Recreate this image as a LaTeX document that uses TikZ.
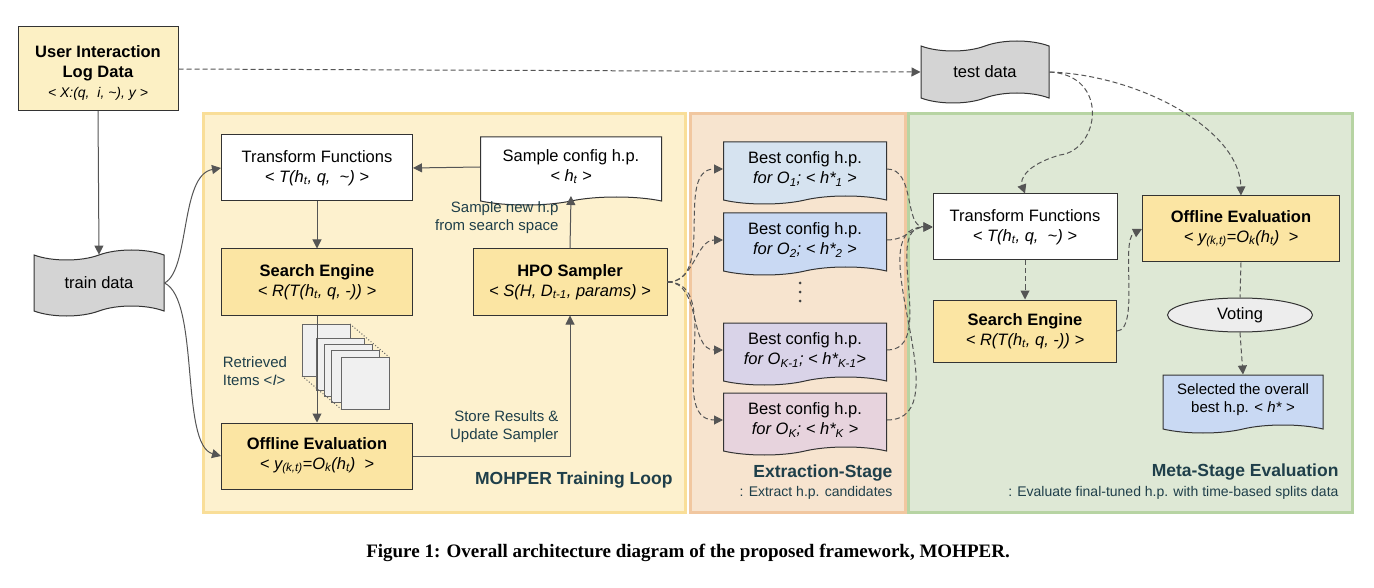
\documentclass[tikz,border=0pt]{standalone}
\usepackage{fontspec}
\setmainfont{Liberation Sans}
\newfontfamily\capfont{Liberation Serif}
\usetikzlibrary{shapes.geometric,shapes.symbols,arrows.meta,positioning}
\definecolor{arr}{HTML}{555555}
\definecolor{ybox}{HTML}{FBE5A3}
\definecolor{ypan}{HTML}{FDF1CE}
\definecolor{ypanb}{HTML}{F9DE98}
\definecolor{opan}{HTML}{F7E4CF}
\definecolor{opanb}{HTML}{F1C7A0}
\definecolor{gpan}{HTML}{DEE8D5}
\definecolor{gpanb}{HTML}{B7D4A3}
\definecolor{cyl}{HTML}{FCF0C4}
\definecolor{bA}{HTML}{D6E3F0}
\definecolor{bB}{HTML}{C9D9F3}
\definecolor{bC}{HTML}{D9D3E8}
\definecolor{bD}{HTML}{E7D3DD}
\definecolor{ttl}{HTML}{1F3F4A}
\begin{document}
\begin{tikzpicture}[x=1pt,y=-1pt,
  every node/.style={font=\fontsize{16.5}{19.5}\selectfont,align=center,text=black},
  box/.style={draw=black!80,line width=1pt,minimum width=191pt,minimum height=66pt,inner sep=1pt},
  doc/.style={tape,draw=black!80,line width=1pt,tape bend top=none,tape bend bottom=in and out,tape bend height=8pt,minimum width=163pt,minimum height=62pt,inner sep=1pt},
  data/.style={tape,draw=black!80,line width=1pt,fill=black!17,tape bend height=10pt,minimum width=130pt,minimum height=66pt},
  a/.style={draw=arr,line width=1pt,-{Triangle[length=9pt,width=9pt]}},
  d/.style={a,dashed,dash pattern=on 5pt off 3pt},
  panel/.style={line width=3pt},
  ttlf/.style={font=\fontsize{17.5}{20}\selectfont\bfseries,text=ttl},
  subf/.style={font=\fontsize{14}{16}\selectfont,text=ttl}]
\useasboundingbox (0,0) rectangle (1374,588);
\fill[white] (0,0) rectangle (1374,588);
% panels
\draw[panel,fill=ypan,draw=ypanb] (203,114) rectangle (685,512);
\draw[panel,fill=opan,draw=opanb] (690,114) rectangle (905,512);
\draw[panel,fill=gpan,draw=gpanb] (908,114) rectangle (1352,512);
% left column
\node[cylinder,shape border rotate=90,aspect=0.35,draw=black!80,line width=1pt,fill=cyl,minimum width=160pt,minimum height=84pt,inner sep=0pt] (uil) at (98,69) {};
\node at (98,73) {\textbf{User Interaction}\\\textbf{Log Data}\\[1pt]{\fontsize{14}{16}\selectfont\textit{< X:(q,~ i, \textasciitilde), y >}}};
\node[data] (train) at (99,283) {train data};
\node[data,minimum width=128pt,minimum height=62pt] (test) at (985,72) {test data};
% training loop
\node[box,fill=white] (tf) at (317,168) {Transform Functions\\\textit{< T(h\textsubscript{t}, q,~ \textasciitilde) >}};
\node[box,fill=ybox] (se) at (317,282) {\textbf{Search Engine}\\\textit{< R(T(h\textsubscript{t}, q, -)) >}};
\node[box,fill=ybox] (oe) at (317,456) {\textbf{Offline Evaluation}\\\textit{< y\textsubscript{(k,t)}=O\textsubscript{k}(h\textsubscript{t}) ~>}};
\node[box,fill=ybox,minimum width=194pt] (hpo) at (570,282) {\textbf{HPO Sampler}\\\textit{< S(H, D\textsubscript{t-1}, params) >}};
\node[doc,fill=white,minimum width=181pt,minimum height=68pt] (sc) at (571,167) {Sample config h.p.\\\textit{< h\textsubscript{t} >}};
% docs stack
\foreach \dx/\dy [count=\i] in {0/0,14/14,22/20,29/26,39/33}{
  \draw[black!60,line width=1pt,fill=black!6] (302+\dx,324+\dy) rectangle ++(48,52);}
\draw[black!60,dotted,line width=1pt] (350,324) -- (389,357);
\draw[black!60,dotted,line width=1pt] (302,376) -- (341,409);
\node[text=ttl,align=left,font=\fontsize{15}{18}\selectfont] at (255,371) {Retrieved\\Items <\textit{I}>};
\draw[a] (uil.south) -- (train.north);
\draw[d] (uil.east) -- (test.west);
\draw[a] (train.east) .. controls (190,270) and (180,175) .. (tf.west);
\draw[a] (train.east) .. controls (200,300) and (180,445) .. (oe.west);
\draw[a] (tf.south) -- (se.north);
\draw[a] (se.south) -- (oe.north);
\draw[a] (oe.east) -| (hpo.south);
\draw[a] (hpo.north) -- (571,196);
\draw[a] (sc.west) -- (tf.east);
\node[text=ttl,align=right,font=\fontsize{15}{18}\selectfont,anchor=east] at (562,218) {Sample new h.p\\from search space};
\node[text=ttl,align=right,font=\fontsize{15}{18}\selectfont,anchor=east] at (562,427) {Store Results \&\\Update Sampler};
\node[ttlf,anchor=east] at (676,480) {MOHPER Training Loop};
% extraction
\node[doc,fill=bA] (b1) at (805,169) {Best config h.p.\\\textit{for O\textsubscript{1}; < h*\textsubscript{1} >}};
\node[doc,fill=bB] (b2) at (805,240) {Best config h.p.\\\textit{for O\textsubscript{2}; < h*\textsubscript{2} >}};
\foreach \yy in {283,292,301}{\fill[black!75] (800,\yy) circle (1.5pt);}
\node[doc,fill=bC] (b3) at (805,350) {Best config h.p.\\\textit{for O\textsubscript{K-1}; < h*\textsubscript{K-1}>}};
\node[doc,fill=bD] (b4) at (805,420) {Best config h.p.\\\textit{for O\textsubscript{K}; < h*\textsubscript{K} >}};
\node[ttlf,anchor=east] at (896,473) {Extraction-Stage};
\node[subf,anchor=east] at (896,493) {: Extract h.p. candidates};
% meta
\node[box,fill=white,minimum width=184pt,minimum height=66pt] (rtf) at (1025,227) {Transform Functions\\\textit{< T(h\textsubscript{t}, q,~ \textasciitilde) >}};
\node[box,fill=ybox,minimum width=197pt,minimum height=66pt] (roe) at (1241,229) {\textbf{Offline Evaluation}\\\textit{< y\textsubscript{(k,t)}=O\textsubscript{k}(h\textsubscript{t}) ~>}};
\node[box,fill=ybox,minimum width=183pt,minimum height=62pt] (rse) at (1025,331) {\textbf{Search Engine}\\\textit{< R(T(h\textsubscript{t}, q, -)) >}};
\node[ellipse,draw=black!80,line width=1pt,fill=black!7,minimum width=145pt,minimum height=34pt] (vote) at (1240,315) {Voting};
\node[doc,fill=bB,minimum width=160pt,minimum height=58pt,font=\fontsize{15}{18}\selectfont] (sel) at (1243,400) {Selected the overall\\best h.p. < \textit{h*} >};
\node[ttlf,anchor=east] at (1342,472) {Meta-Stage Evaluation};
\node[subf,anchor=east] at (1342,493) {: Evaluate final-tuned h.p. with time-based splits data};
\foreach \b in {b1,b2,b3,b4}{
  \draw[d] (hpo.east) to[out=0,in=180] (\b.west);
  \draw[d] (\b.east) to[out=0,in=180] (rtf.west);}
\draw[d] (test.east) .. controls (1110,75) and (1100,150) .. (1060,155) .. controls (1025,165) and (1020,180) .. (rtf.north);
\draw[d] (test.east) .. controls (1140,75) and (1240,130) .. (roe.north);
\draw[d] (rtf.south) -- (rse.north);
\draw[d] (rse.east) .. controls (1140,330) and (1120,240) .. (roe.west);
\draw[arr,line width=1pt,dashed,dash pattern=on 5pt off 3pt] (roe.south) -- (vote.north);
\draw[d] (vote.south) -- (sel.north);
% caption
\node[font=\capfont\fontsize{19}{22}\selectfont\bfseries] at (688,553) {Figure 1: Overall architecture diagram of the proposed framework, MOHPER.};
\end{tikzpicture}
\end{document}
